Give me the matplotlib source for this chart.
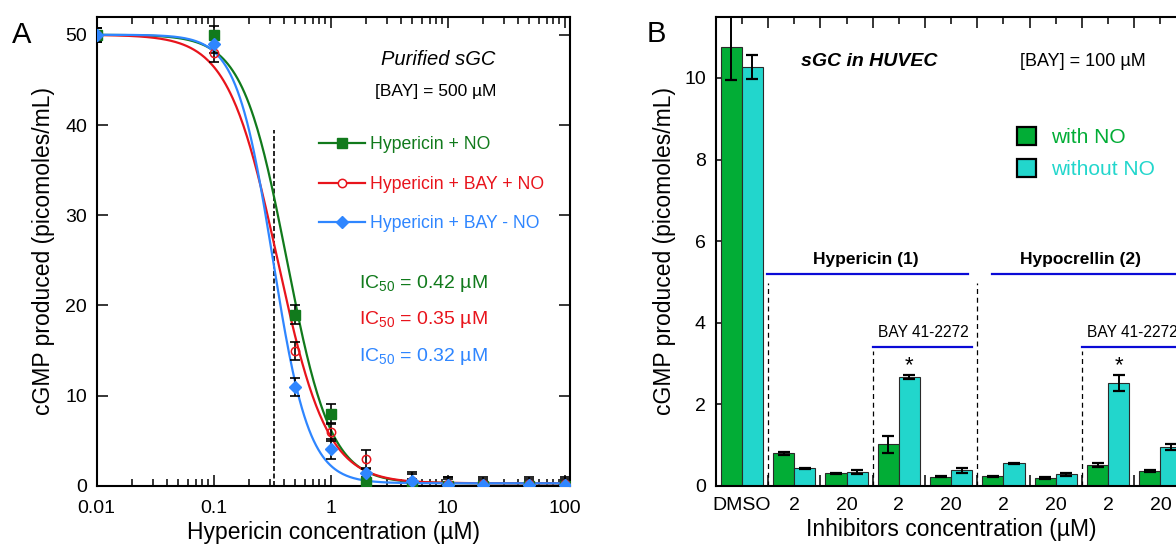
import numpy as np
import matplotlib
matplotlib.use("Agg")
import matplotlib.pyplot as plt
from matplotlib.lines import Line2D
from matplotlib.patches import Patch
from matplotlib.ticker import FixedLocator, NullFormatter, FixedFormatter

plt.rcParams['font.family'] = ['Liberation Sans', 'DejaVu Sans']
plt.rcParams['mathtext.fontset'] = 'custom'
plt.rcParams['mathtext.rm'] = 'Liberation Sans'
plt.rcParams['mathtext.it'] = 'Liberation Sans:italic'
plt.rcParams['mathtext.default'] = 'regular'

# ---------------- Panel A data ----------------
conc = [0.01, 0.1, 0.5, 1, 2, 5, 10, 20, 50, 100]
hyp_no = [50, 50, 19, 8, 0.4, 0.0, 0.0, 0.0, 0.0, 0.0]
hyp_no_err = [0.8, 1.0, 1.0, 1.1, 0.6, 0.8, 0.8, 0.6, 0.6, 0.6]
hyp_bay_no = [50, 48, 15, 6, 3, 0.5, 0.2, 0.2, 0.2, 0.2]
hyp_bay_no_err = [0.8, 1.0, 1.0, 1.0, 1.0, 0.8, 0.8, 0.6, 0.6, 0.6]
hyp_bay = [50, 49, 11, 4.1, 1.4, 0.6, 0.15, 0.15, 0.15, 0.15]
hyp_bay_err = [0.8, 1.0, 1.0, 1.1, 0.5, 0.9, 0.9, 0.8, 0.8, 0.8]

series_labels = ['Hypericin + NO', 'Hypericin + BAY + NO', 'Hypericin + BAY - NO']
ic50 = [0.42, 0.35, 0.32]
hill = [2.3, 2.05, 2.8]
fit_top = 50.0
fit_bottom = 0.3
ic50_dashed = 0.33

xticks_a = [0.01, 0.1, 1, 10, 100]
xticklabels_a = ['0.01', '0.1', '1', '10', '100']
yticks_a = [0, 10, 20, 30, 40, 50]

# ---------------- Panel B data ----------------
groups_b = ['DMSO', '2', '20', '2', '20', '2', '20', '2', '20']
with_no = [10.75, 0.80, 0.31, 1.02, 0.23, 0.24, 0.19, 0.51, 0.36]
with_no_err = [0.8, 0.04, 0.01, 0.20, 0.02, 0.01, 0.02, 0.05, 0.02]
without_no = [10.27, 0.43, 0.35, 2.67, 0.38, 0.56, 0.29, 2.52, 0.95]
without_no_err = [0.30, 0.02, 0.05, 0.06, 0.05, 0.01, 0.04, 0.20, 0.07]
yticks_b = [0, 2, 4, 6, 8, 10]

GREEN_A = '#117a1c'
RED_A = '#e8141c'
BLUE_A = '#2f86ff'
GREEN_B = '#02ad36'
CYAN_B = '#22d6cc'
LINE_BLUE = '#0a0ad6'

TICK_FS = 14
LABEL_FS = 16.5

fig = plt.figure(figsize=(11.76, 5.44), dpi=100)
axA = fig.add_axes([0.08223, 0.10662, 0.40247, 0.86268])
axB = fig.add_axes([0.60859, 0.10662, 0.40043, 0.86268])

# ---------------- Panel A ----------------
xfit = np.logspace(-2, 2, 400)
colors = [GREEN_A, RED_A, BLUE_A]
for c, ic, h in zip(colors, ic50, hill):
    yfit = fit_bottom + (fit_top - fit_bottom) / (1 + (xfit / ic) ** h)
    axA.plot(xfit, yfit, color=c, lw=1.6, zorder=2)

for means, errs in [(hyp_no, hyp_no_err), (hyp_bay_no, hyp_bay_no_err), (hyp_bay, hyp_bay_err)]:
    axA.errorbar(conc, means, yerr=errs, fmt='none', ecolor='black', elinewidth=1.2,
                 capsize=3.5, capthick=1.2, zorder=3)

axA.plot(conc, hyp_no, ls='none', marker='s', ms=7, color=GREEN_A, zorder=4)
axA.plot(conc, hyp_bay_no, ls='none', marker='o', ms=6, mfc='none', mec=RED_A, mew=1.1, zorder=5)
axA.plot(conc, hyp_bay, ls='none', marker='D', ms=6.5, color=BLUE_A, zorder=6)

axA.plot([ic50_dashed, ic50_dashed], [0, 39.5], color='black', lw=1.2, ls=(0, (3, 1.5)), zorder=1)

axA.set_xscale('log')
axA.set_xlim(0.01, 111)
axA.set_ylim(0, 52)
axA.xaxis.set_major_locator(FixedLocator(xticks_a))
axA.xaxis.set_major_formatter(FixedFormatter(xticklabels_a))
axA.xaxis.set_minor_locator(FixedLocator([m * d for d in [0.01, 0.1, 1, 10] for m in range(2, 10)]))
axA.xaxis.set_minor_formatter(NullFormatter())
axA.set_yticks(yticks_a)
axA.tick_params(which='both', direction='in', top=True, right=True, labelsize=TICK_FS, width=1.1)
axA.tick_params(which='major', length=8)
axA.tick_params(which='minor', length=5)
axA.tick_params(axis='x', pad=10)
axA.tick_params(axis='y', pad=7)
for s in axA.spines.values():
    s.set_linewidth(1.5)
axA.set_xlabel('Hypericin concentration (µM)', fontsize=LABEL_FS, labelpad=3)
axA.set_ylabel('cGMP produced (picomoles/mL)', fontsize=LABEL_FS, labelpad=7)

axA.text(0.7205, 0.9086, 'Purified sGC', transform=axA.transAxes, ha='center', va='center',
         fontsize=14.5, style='italic')
axA.text(0.7156, 0.8397, '[BAY] = 500 µM', transform=axA.transAxes, ha='center', va='center',
         fontsize=12.5)

handles_a = [
    Line2D([], [], color=GREEN_A, lw=1.6, marker='s', ms=7),
    Line2D([], [], color=RED_A, lw=1.6, marker='o', ms=6, mfc='white', mec=RED_A, mew=1.1),
    Line2D([], [], color=BLUE_A, lw=1.6, marker='D', ms=6.5),
]
axA.legend(handles_a, series_labels, loc='upper left', bbox_to_anchor=(0.4703, 0.745),
           frameon=False, fontsize=12.7, handlelength=2.6, handletextpad=0.3,
           labelspacing=1.27, borderpad=0, borderaxespad=0, labelcolor=colors)

ic_y = [0.4225, 0.345, 0.2674]
for c, ic, yy in zip(colors, ic50, ic_y):
    axA.text(0.5548, yy, 'IC$_{50}$ = %.2f µM' % ic, transform=axA.transAxes, ha='left',
             va='baseline', fontsize=14, color=c)

# ---------------- Panel B ----------------
xb = np.arange(len(groups_b))
bw = 0.405
axB.bar(xb - bw / 2, with_no, width=bw, color=GREEN_B, edgecolor='#2a2a2a', lw=0.8, zorder=2)
axB.bar(xb + bw / 2, without_no, width=bw, color=CYAN_B, edgecolor='#2a2a2a', lw=0.8, zorder=2)
axB.errorbar(xb - bw / 2, with_no, yerr=with_no_err, fmt='none', ecolor='black', elinewidth=1.4,
             capsize=4, capthick=1.6, zorder=3)
axB.errorbar(xb + bw / 2, without_no, yerr=without_no_err, fmt='none', ecolor='black', elinewidth=1.4,
             capsize=4, capthick=1.6, zorder=3)

axB.set_xlim(-0.5, len(groups_b) - 0.5)
axB.set_ylim(0, 11.5)
axB.set_yticks(yticks_b)
axB.set_xticks(xb)
axB.set_xticklabels(groups_b)
axB.xaxis.set_minor_locator(FixedLocator(list(xb[:-1] + 0.5)))
axB.tick_params(which='both', direction='in', top=True, right=True, labelsize=TICK_FS, width=1.1)
axB.tick_params(axis='y', which='major', length=8, pad=7)
axB.tick_params(axis='x', which='major', length=5, pad=8)
axB.tick_params(axis='x', which='minor', length=8)
for s in axB.spines.values():
    s.set_linewidth(1.5)
axB.set_xlabel('Inhibitors concentration (µM)', fontsize=LABEL_FS, labelpad=3)
axB.set_ylabel('cGMP produced (picomoles/mL)', fontsize=LABEL_FS, labelpad=6)

# group annotations
axB.plot([0.5, 0.5], [0, 4.97], color='black', lw=0.9, ls=(0, (4, 3)), zorder=1)
axB.plot([4.5, 4.5], [0, 4.97], color='black', lw=0.9, ls=(0, (4, 3)), zorder=1)
axB.plot([2.5, 2.5], [0, 3.3], color='black', lw=0.9, ls=(0, (4, 3)), zorder=1)
axB.plot([6.5, 6.5], [0, 3.3], color='black', lw=0.9, ls=(0, (4, 3)), zorder=1)
axB.plot([0.48, 4.32], [5.19, 5.19], color=LINE_BLUE, lw=1.6)
axB.plot([4.79, 8.62], [5.19, 5.19], color=LINE_BLUE, lw=1.6)
axB.plot([2.5, 4.4], [3.41, 3.41], color=LINE_BLUE, lw=1.6)
axB.plot([6.5, 8.4], [3.41, 3.41], color=LINE_BLUE, lw=1.6)
axB.text(2.36, 5.55, 'Hypericin (1)', ha='center', va='center', fontsize=12.5, fontweight='bold')
axB.text(6.48, 5.55, 'Hypocrellin (2)', ha='center', va='center', fontsize=12.5, fontweight='bold')
axB.text(3.47, 3.76, 'BAY 41-2272', ha='center', va='center', fontsize=11.2)
axB.text(7.47, 3.76, 'BAY 41-2272', ha='center', va='center', fontsize=11.2)
axB.text(3 + bw / 2, 2.95, '*', ha='center', va='center', fontsize=16)
axB.text(7 + bw / 2, 2.95, '*', ha='center', va='center', fontsize=16)

axB.text(2.43, 10.4, 'sGC in HUVEC', ha='center', va='center', fontsize=14, fontweight='bold',
         style='italic')
axB.text(6.51, 10.39, '[BAY] = 100 µM', ha='center', va='center', fontsize=13)

handles_b = [Patch(facecolor=GREEN_B, edgecolor='black', lw=1.6),
             Patch(facecolor=CYAN_B, edgecolor='black', lw=1.6)]
axB.legend(handles_b, ['with NO', 'without NO'], loc='upper left', bbox_to_anchor=(0.6392, 0.7653),
           frameon=False, fontsize=15, handlelength=0.91, handleheight=0.96, handletextpad=0.75,
           labelspacing=0.55, borderpad=0, borderaxespad=0, labelcolor=[GREEN_B, CYAN_B])

fig.text(22 / 1176, 1 - 35 / 544, 'A', fontsize=21, ha='center', va='center')
fig.text(656 / 1176, 1 - 34 / 544, 'B', fontsize=21, ha='center', va='center')

fig.savefig('out.png', dpi=100)
